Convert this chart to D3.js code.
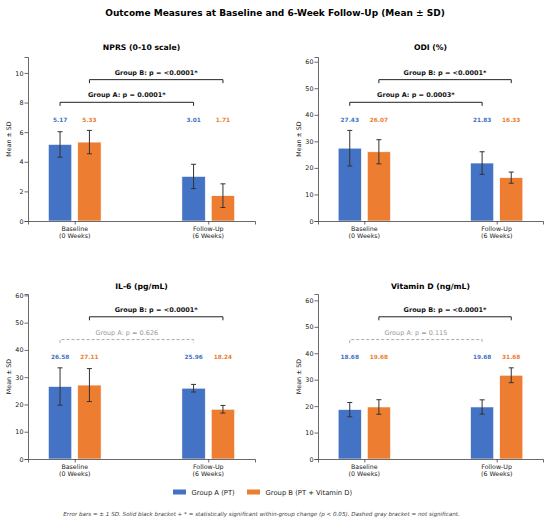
<!DOCTYPE html>
<html>
<head>
<meta charset="utf-8">
<script src="https://cdn.jsdelivr.net/npm/d3@7"></script>
<style>
  body { margin: 0; background: #fff; }
  text { font-family: "DejaVu Sans", sans-serif; }
</style>
</head>
<body>
<div id="chart"></div>
<script>
// values
var titles = ["NPRS (0-10 scale)", "ODI (%)", "IL-6 (pg/mL)", "Vitamin D (ng/mL)"];
var timepoints = [["Baseline", "(0 Weeks)"], ["Follow-Up", "(6 Weeks)"]];
var groups = ["Group A (PT)", "Group B (PT + Vitamin D)"];
var meanA = [[5.17, 3.01], [27.43, 21.83], [26.58, 25.96], [18.68, 19.68]];
var sdA   = [[0.86, 0.82], [6.70, 4.25], [6.85, 1.40], [2.70, 2.70]];
var meanB = [[5.33, 1.71], [26.07, 16.33], [27.11, 18.24], [19.68, 31.68]];
var sdB   = [[0.79, 0.80], [4.55, 2.10], [6.05, 1.40], [2.75, 2.80]];
var pA = ["0.0001*", "0.0003*", "0.626", "0.115"];
var pB = ["<0.0001*", "<0.0001*", "<0.0001*", "<0.0001*"];
var sigA = [true, true, false, false];
var sigB = [true, true, true, true];
var yTicks = [[0, 2, 4, 6, 8, 10], [0, 10, 20, 30, 40, 50, 60], [0, 10, 20, 30, 40, 50, 60], [0, 10, 20, 30, 40, 50, 60]];

var colors = ["#4472C4", "#ED7D31"];
var W = 550, H = 521;

var svg = d3.select("#chart").append("svg")
    .attr("width", W)
    .attr("height", H);

svg.append("text")
    .attr("x", W / 2).attr("y", 15.5)
    .attr("text-anchor", "middle")
    .style("font-size", "9px").style("font-weight", "bold")
    .text("Outcome Measures at Baseline and 6-Week Follow-Up (Mean \u00b1 SD)");

var boxes = [
  {left: 28, right: 255, top: 57, bottom: 221, ty: 49.5},
  {left: 318, right: 543, top: 57, bottom: 221, ty: 49.5},
  {left: 28, right: 255, top: 294, bottom: 459, ty: 289},
  {left: 318, right: 543, top: 294, bottom: 459, ty: 289}
];

var barW = 0.175, off = 0.11;

titles.forEach(function(title, i) {
  var b = boxes[i];
  var g = svg.append("g");

  var tops = [0, 1].map(function(t) {
    return Math.max(meanA[i][t] + sdA[i][t], meanB[i][t] + sdB[i][t]);
  });
  var top = d3.max(tops);

  var x = d3.scaleLinear().domain([-0.35, 1.35]).range([b.left, b.right]);
  var y = d3.scaleLinear().domain([0, top * 1.81]).range([b.bottom, b.top]);

  g.append("text")
    .attr("x", (b.left + b.right) / 2).attr("y", b.ty)
    .attr("text-anchor", "middle")
    .style("font-size", "7.7px").style("font-weight", "bold")
    .text(title);

  // bars + error bars
  var series = [meanA[i], meanB[i]];
  var sds = [sdA[i], sdB[i]];
  series.forEach(function(vals, s) {
    var dx = s == 0 ? -off : off;
    vals.forEach(function(v, t) {
      var cx = x(t + dx);
      g.append("rect")
        .attr("x", x(t + dx - barW / 2))
        .attr("y", y(v))
        .attr("width", x(barW) - x(0))
        .attr("height", y(0) - y(v))
        .attr("fill", colors[s])
        .attr("stroke", "#fff").attr("stroke-width", 0.6);
      var hi = y(v + sds[s][t]), lo = y(v - sds[s][t]);
      g.append("line").attr("x1", cx).attr("x2", cx).attr("y1", hi).attr("y2", lo)
        .attr("stroke", "#333").attr("stroke-width", 1);
      [hi, lo].forEach(function(yy) {
        g.append("line").attr("x1", cx - 2.5).attr("x2", cx + 2.5).attr("y1", yy).attr("y2", yy)
          .attr("stroke", "#333").attr("stroke-width", 1);
      });
      g.append("text")
        .attr("x", cx).attr("y", y(top * 1.12) + 2.1)
        .attr("text-anchor", "middle")
        .style("font-size", "5.8px").style("font-weight", "bold")
        .attr("fill", colors[s])
        .text(v.toFixed(2));
    });
  });

  // brackets
  function bracket(s, level, label, sig) {
    var dx = s == 0 ? -off : off;
    var x1 = x(0 + dx), x2 = x(1 + dx), yy = y(top * level);
    var col = sig ? "#222" : "#aaa";
    g.append("path")
      .attr("d", "M" + x1 + "," + (yy + 3.5) + "V" + yy + "H" + x2 + "V" + (yy + 3.5))
      .attr("fill", "none")
      .attr("stroke", col).attr("stroke-width", 1)
      .attr("stroke-dasharray", sig ? null : "3,2");
    g.append("text")
      .attr("x", (x1 + x2) / 2).attr("y", yy - 5)
      .attr("text-anchor", "middle")
      .style("font-size", "6.5px")
      .style("font-weight", sig ? "bold" : "normal")
      .attr("fill", sig ? "#111" : "#999")
      .text(label);
  }
  bracket(0, 1.31, "Group A: p = " + pA[i], sigA[i]);
  bracket(1, 1.56, "Group B: p = " + pB[i], sigB[i]);

  // axes
  var yAxis = g.append("g")
    .attr("transform", "translate(" + b.left + ",0)")
    .call(d3.axisLeft(y).tickValues(yTicks[i]).tickSize(3.5).tickPadding(1));
  var xAxis = g.append("g")
    .attr("transform", "translate(0," + b.bottom + ")")
    .call(d3.axisBottom(x).tickValues([0, 1]).tickSize(3.5).tickFormat(""));
  [yAxis, xAxis].forEach(function(a) {
    a.select(".domain").attr("stroke", "#444").attr("stroke-width", 0.8);
    a.selectAll(".tick line").attr("stroke", "#444").attr("stroke-width", 0.8);
    a.selectAll("text").style("font-size", "6.4px").attr("fill", "#222")
      .style("font-family", "DejaVu Sans");
  });
  timepoints.forEach(function(tp, t) {
    var tx = g.append("text")
      .attr("text-anchor", "middle")
      .style("font-size", "6.3px").attr("fill", "#222");
    tp.forEach(function(line, k) {
      tx.append("tspan").attr("x", x(t)).attr("y", b.bottom + 9.5 + k * 7.8).text(line);
    });
  });

  g.append("text")
    .attr("transform", "translate(" + (b.left - 17) + "," + ((b.top + b.bottom) / 2) + ") rotate(-90)")
    .attr("text-anchor", "middle")
    .style("font-size", "6.3px").attr("fill", "#222")
    .text("Mean \u00b1 SD");
});

// legend
var legend = svg.append("g");
var lx = [173, 247];
groups.forEach(function(name, s) {
  legend.append("rect")
    .attr("x", lx[s]).attr("y", 489.5).attr("width", 13).attr("height", 5)
    .attr("fill", colors[s]);
  legend.append("text")
    .attr("x", lx[s] + 18.5).attr("y", 494.5)
    .style("font-size", "6.8px").attr("fill", "#222")
    .text(name);
});

svg.append("text")
  .attr("x", 261.5).attr("y", 515.5)
  .attr("text-anchor", "middle")
  .style("font-size", "5.6px").style("font-style", "italic")
  .attr("fill", "#444")
  .text("Error bars = \u00b1 1 SD.  Solid black bracket + * = statistically significant within-group change (p < 0.05).  Dashed gray bracket = not significant.");
</script>
</body>
</html>
